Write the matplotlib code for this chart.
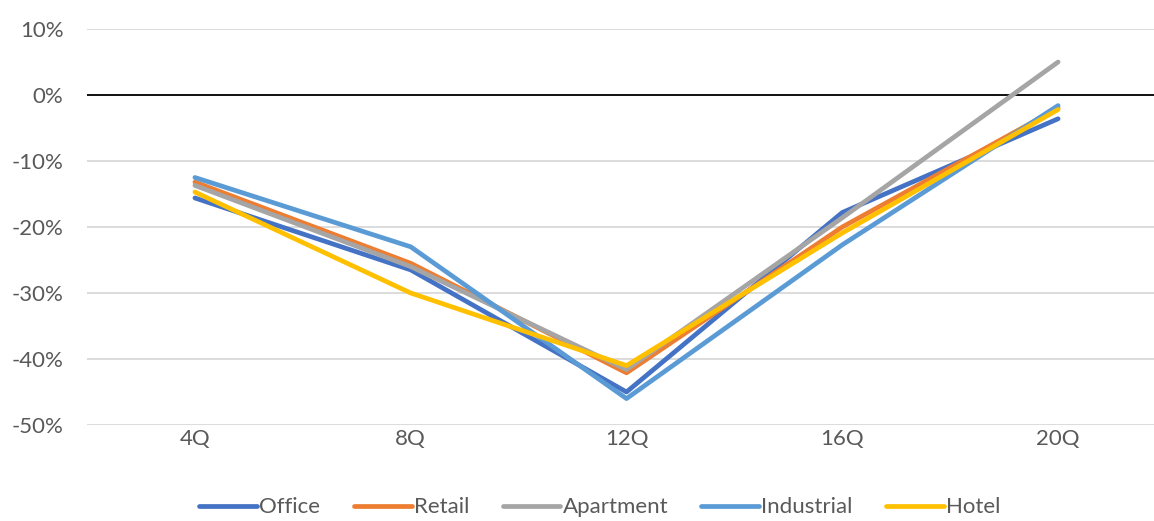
import numpy as np
import matplotlib
matplotlib.use('Agg')
import matplotlib.pyplot as plt

# data (percent)
quarters = ['4Q', '8Q', '12Q', '16Q', '20Q']
office = [-15.6, -26.5, -45.0, -17.8, -3.6]
retail = [-13.2, -25.5, -42.1, -20.0, -2.0]
apartment = [-13.7, -26.0, -41.6, -18.6, 5.0]
industrial = [-12.5, -23.0, -46.0, -22.7, -1.6]
hotel = [-14.7, -30.0, -41.0, -20.9, -2.2]

series = [('Office', office, '#4472C4'),
          ('Retail', retail, '#ED7D31'),
          ('Apartment', apartment, '#A5A5A5'),
          ('Industrial', industrial, '#5B9BD5'),
          ('Hotel', hotel, '#FFC000')]

plt.rcParams['font.family'] = ['Lato', 'DejaVu Sans']

fig = plt.figure(figsize=(11.54, 5.21), dpi=100)
ax = fig.add_axes([0.0754, 0.1843, 0.935, 0.760])

x = np.arange(len(quarters))
for name, vals, col in series:
    ax.plot(x, vals, color=col, lw=3.4, label=name, solid_capstyle='round',
            solid_joinstyle='round', zorder=3)

ax.set_xlim(-0.5, len(quarters) - 0.5)
ax.set_ylim(-50, 10)
ax.set_yticks(np.arange(-50, 11, 10))
ax.set_yticklabels(['%d%%' % v for v in np.arange(-50, 11, 10)])
ax.set_xticks(x)
ax.set_xticklabels(quarters)
ax.grid(axis='y', color='#D9D9D9', lw=1.3, zorder=0)
ax.axhline(0, color='black', lw=1.3, zorder=2)
for s in ax.spines.values():
    s.set_visible(False)
ax.tick_params(length=0, labelsize=16, colors='#595959')
ax.tick_params(axis='y', pad=17)
ax.tick_params(axis='x', pad=3)

fig.legend(loc='center', bbox_to_anchor=(600 / 1154, 0.026), ncol=5,
           frameon=False, fontsize=16, handlelength=2.6, handletextpad=0.1,
           columnspacing=1.5, labelcolor='#595959', borderpad=0.1)

fig.savefig('out.png', dpi=100)
